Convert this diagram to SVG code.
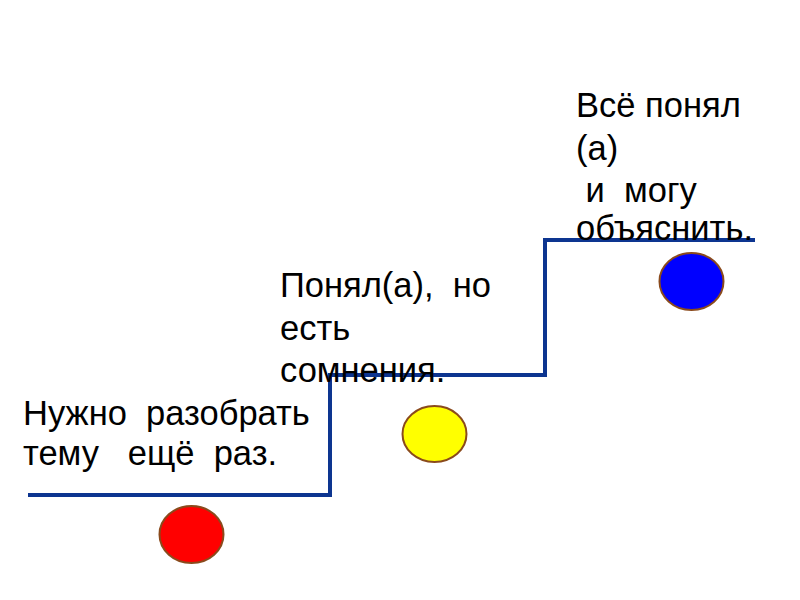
<svg xmlns="http://www.w3.org/2000/svg" width="800" height="600" viewBox="0 0 800 600">
<style>
.t{font-family:"Liberation Sans",Arial,sans-serif;font-size:34.5px;fill:#000;white-space:pre}
.dot{stroke:#8a4a1c;stroke-width:2}
.step{fill:none;stroke:#0d3590;stroke-width:4;stroke-linejoin:miter}
</style>
<rect width="800" height="600" fill="#fff"/>
<g id="connectors">
<path class="step" d="M28,495 H330 V375 H545 V240 H755"/>
</g>
<g id="level1">
<text class="t" x="23" y="425">Нужно  разобрать</text>
<text class="t" x="23" y="465">тему   ещё  раз.</text>
<ellipse class="dot" cx="191.5" cy="534.5" rx="32" ry="28.5" fill="#ff0000"/>
</g>
<g id="level2">
<text class="t" x="280" y="297">Понял(а),  но</text>
<text class="t" x="280" y="340">есть</text>
<text class="t" x="280" y="382">сомнения.</text>
<ellipse class="dot" cx="434.5" cy="434" rx="32" ry="28" fill="#ffff00"/>
</g>
<g id="level3">
<text class="t" x="576" y="117">Всё понял</text>
<text class="t" x="576" y="160">(а)</text>
<text class="t" x="576" y="202"> и  могу</text>
<text class="t" x="576" y="240">объяснить.</text>
<ellipse class="dot" cx="691.5" cy="281.5" rx="32" ry="28.5" fill="#0000ff"/>
</g>
</svg>
